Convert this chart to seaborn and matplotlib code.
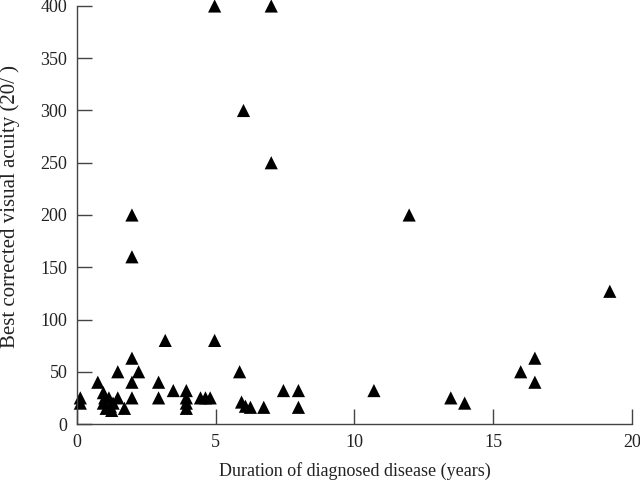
import numpy as np
import pandas as pd
import seaborn as sns
import matplotlib.pyplot as plt

# duration of diagnosed disease (years) vs best corrected visual acuity (20/x)
duration = [0.12, 0.12, 0.75, 0.95, 1.0, 0.95, 1.05, 1.25, 1.3, 1.15, 1.2,
            1.47, 1.47, 1.71, 1.98, 1.98, 1.98, 2.22, 1.98, 1.98,
            2.94, 2.94, 3.18, 3.47, 3.94, 3.94, 3.94, 3.94,
            4.45, 4.63, 4.8, 4.96, 4.96, 5.86, 5.93, 6.07, 6.25, 6.0,
            6.73, 7.0, 7.0, 7.44, 7.98, 7.98,
            10.7, 11.97, 13.47, 13.97, 15.99, 16.5, 16.5, 19.2]
acuity = [25, 20, 40, 30, 25, 20, 15, 13, 20, 25, 17,
          50, 25, 15, 63, 40, 25, 50, 200, 160,
          40, 25, 80, 32, 32, 25, 20, 15,
          25, 25, 25, 80, 400, 50, 21, 17, 16, 300,
          16, 400, 250, 32, 32, 16,
          32, 200, 25, 20, 50, 63, 40, 127]

df = pd.DataFrame({"duration": duration, "acuity": acuity})

sns.set_style("ticks")
plt.rcParams["font.family"] = ["Liberation Serif", "DejaVu Serif"]

fig = plt.figure(figsize=(6.4, 4.82), dpi=100)
ax = fig.add_axes([0.1203, 0.1203, 0.8672, 0.8673])

sns.scatterplot(data=df, x="duration", y="acuity", marker="^", s=90,
                color="black", edgecolor="none", ax=ax, clip_on=False)

ax.set_xlim(0, 20)
ax.set_ylim(0, 400)
ax.set_xticks([0, 5, 10, 15, 20])
ax.set_yticks(range(0, 401, 50))
ax.tick_params(direction="in", length=11, width=1, color="#444444",
               labelsize=13, labelcolor="#222222", pad=7)
ax.set_xlabel("Duration of diagnosed disease (years)", fontsize=13,
              color="#222222", labelpad=8)
ax.set_ylabel("Best corrected visual acuity (20/ )", fontsize=15,
              color="#222222")
ax.yaxis.set_label_coords(-0.102, 0.52)
sns.despine(ax=ax)
for sp in ["left", "bottom"]:
    ax.spines[sp].set_color("#444444")
    ax.spines[sp].set_linewidth(1)

fig.savefig("out.png", dpi=100)
